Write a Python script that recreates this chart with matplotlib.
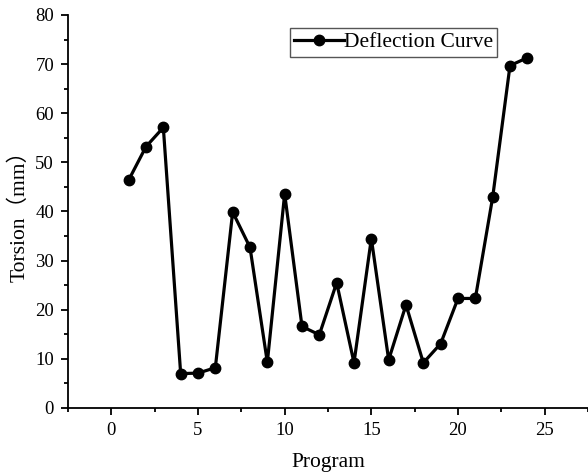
import matplotlib.pyplot as plt
from matplotlib.ticker import MultipleLocator

# data
program = list(range(1, 25))
torsion = [46.4, 53.2, 57.1, 7.0, 7.1, 8.2, 39.9, 32.7, 9.3, 43.6, 16.6, 14.9,
           25.5, 9.2, 34.5, 9.8, 21.0, 9.2, 13.1, 22.3, 22.3, 42.9, 69.7, 71.3]

plt.rcParams['font.family'] = ['Liberation Serif', 'Noto Sans CJK SC']

fig = plt.figure(figsize=(5.88, 4.72), dpi=100)
ax = fig.add_axes([68 / 588, 64 / 472, 1 - 68 / 588, (408 - 15) / 472])

ax.plot(program, torsion, color='black', linewidth=2.3, marker='o',
        markersize=7.5, label='Deflection Curve')

ax.set_xlim(-2.5, 27.5)
ax.set_ylim(0, 80)
ax.xaxis.set_major_locator(MultipleLocator(5))
ax.xaxis.set_minor_locator(MultipleLocator(2.5))
ax.yaxis.set_major_locator(MultipleLocator(10))
ax.yaxis.set_minor_locator(MultipleLocator(5))

ax.spines['top'].set_visible(False)
ax.spines['right'].set_visible(False)
ax.spines['left'].set_linewidth(1.3)
ax.spines['bottom'].set_linewidth(1.3)
ax.tick_params(which='major', direction='out', length=5, width=1.3,
               labelsize=13.5, pad=5)
ax.tick_params(which='minor', direction='out', length=3, width=1.3)

ax.set_xlabel('Program', fontsize=15.5, labelpad=10)
ax.set_ylabel('Torsion（mm）', fontsize=15.5, labelpad=4)

leg = ax.legend(loc='upper left', bbox_to_anchor=(290 / 588, 1 - 28 / 472),
                bbox_transform=fig.transFigure,
                fontsize=15.5, fancybox=False, framealpha=1, edgecolor='#555555',
                handlelength=2.3, handletextpad=0.0, borderpad=0.2,
                borderaxespad=0)
leg.get_frame().set_linewidth(1.0)

plt.savefig('out.png', dpi=100)
